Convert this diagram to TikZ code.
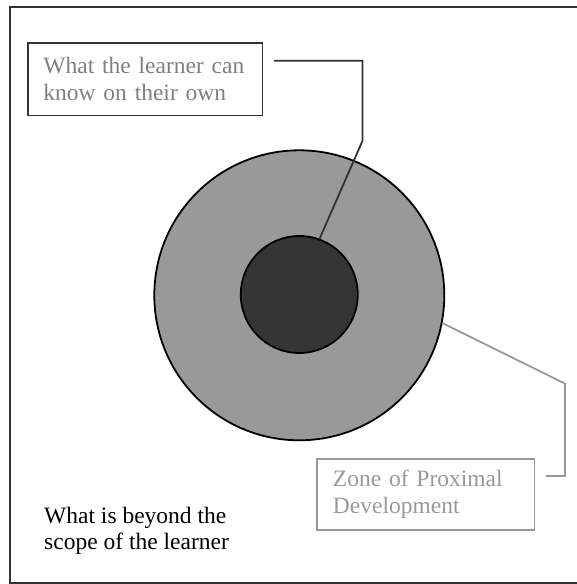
\documentclass[tikz,border=0pt]{standalone}
\usepackage{fontspec}
\setmainfont{Liberation Serif}
\usepackage{tikz}
\definecolor{darkline}{HTML}{333333}
\definecolor{midgray}{HTML}{999999}
\definecolor{textgray}{HTML}{808080}
\definecolor{coregray}{HTML}{353535}
\tikzset{every picture/.style={/utils/exec={\fontsize{23.5}{26.5}\selectfont}}}
\tikzstyle{line}=[line width=1.8pt]
\tikzstyle{frame}=[line width=2.2pt,draw=darkline]
\tikzstyle{ring}=[line,draw=black,circle,inner sep=0pt]
\tikzstyle{labelbox}=[line,rectangle,align=left,inner xsep=15.8pt,inner ysep=0pt]
\begin{document}
\begin{tikzpicture}[x=1pt,y=-1pt]
    \useasboundingbox (0,0) rectangle (577,584);
    \draw[frame] (579,7) -- (10,7) -- (10,583) -- (579,583);
    \node[ring,fill=midgray,minimum size=290pt] (Zone) at (299.3,295.3) {};
    \node[ring,fill=coregray,minimum size=117pt] (Core) at (299.3,294.5) {};
    \node[labelbox,draw=darkline,text=textgray,text width=203.2pt,minimum height=72.7pt]
      (KnowBox) at (145,79.2) {What the learner can\\know on their own};
    \node[labelbox,draw=midgray,text=midgray,text width=185.7pt,minimum height=71.2pt]
      (ZPDBox) at (425.8,494.4) {Zone of Proximal\\Development};
    \node[anchor=north west,inner sep=0pt,align=left] (Beyond) at (44,506.8)
      {What is beyond the\\scope of the learner};
    \coordinate (KnowTip) at (274,60.7);
    \coordinate (ZoneTip) at (545.8,476);
    \draw[line,darkline] (KnowTip) -| (362.5,140.8) -- (Core.70);
    \draw[line,midgray] (Zone.-11) -- (565,383.6) |- (ZoneTip);
\end{tikzpicture}
\end{document}
